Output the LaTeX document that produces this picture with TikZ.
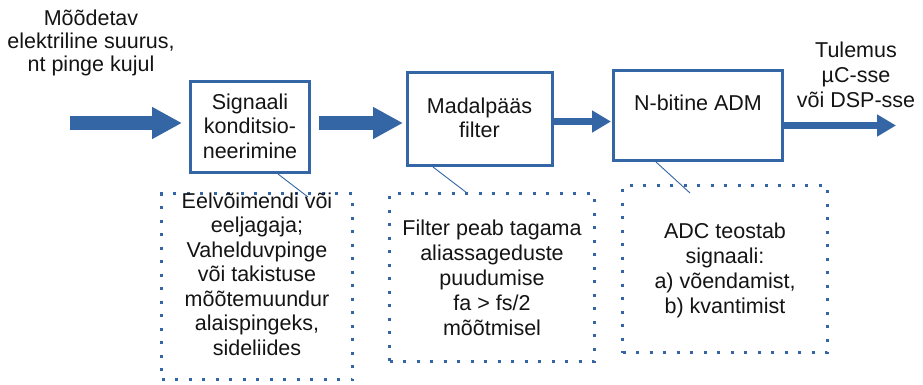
\documentclass[tikz,border=0pt]{standalone}
\usepackage{fontspec}
\setmainfont{Liberation Sans}
\usetikzlibrary{arrows.meta,calc}
\definecolor{lblue}{RGB}{52,101,164}
\definecolor{ink}{RGB}{20,20,20}
\begin{document}
\begin{tikzpicture}[x=1pt,y=-1pt,
  % text nodes are placed by the baseline of their last line
  txt/.style={align=center, text=ink, inner sep=0pt, anchor=base,
    font=\fontsize{21.5}{24.5}\selectfont},
  block/.style={draw=lblue, line width=3pt, fill=white, inner sep=0pt},
  note/.style={draw=lblue, line width=3pt, dash pattern=on 3pt off 10.5pt},
  flow/.style={draw=lblue, line width=14pt, -{Triangle[length=30pt,width=30pt]}},
  thinflow/.style={draw=lblue, line width=7.5pt, -{Triangle[length=19pt,width=21pt]}},
  lead/.style={draw=lblue, line width=0.9pt}]
\useasboundingbox[fill=white] (0,0) rectangle (923,384);

% processing blocks
\node[block, minimum width=119pt, minimum height=91pt] (b1) at (250,127) {};
\node[block, minimum width=145pt, minimum height=93pt] (b2) at (479.5,119) {};
\node[block, minimum width=169pt, minimum height=90pt] (b3) at (698,115.5) {};

% explanatory notes (dotted frames)
\node[note, minimum width=191pt, minimum height=186pt] (nA) at (257,286.5) {};
\node[note, minimum width=205pt, minimum height=168pt] (nB) at (492,277.5) {};
\node[note, minimum width=205pt, minimum height=167pt] (nC) at (725,269) {};

% block labels
\node[txt] (t1) at (250,158) {Signaali\\konditsio-\\neerimine};
\node[txt, font=\fontsize{21.5}{24}\selectfont] (t2) at (479.5,137) {Madalpääs\\filter};
\node[txt] (t3) at (698,110) {N-bitine ADM};

% note texts
\node[txt] (tA) at (257,355) {Eelvõimendi või\\eeljagaja;\\Vahelduvpinge\\või takistuse\\mõõtemuundur\\alaispingeks,\\sideliides};
\node[txt, font=\fontsize{21.5}{25}\selectfont] (tB) at (492,335) {Filter peab tagama\\aliassageduste\\puudumise\\fa > fs/2\\mõõtmisel};
\node[txt, font=\fontsize{21.5}{24.7}\selectfont] (tC) at (725,313) {ADC teostab\\signaali:\\a) võendamist,\\b) kvantimist};

% input / output captions
\node[txt, font=\fontsize{21.5}{23}\selectfont] (tin) at (91,71) {Mõõdetav\\elektriline suurus,\\nt pinge kujul};
\node[txt, font=\fontsize{21.5}{25}\selectfont] (tout) at (856,107) {Tulemus\\µC-sse\\või DSP-sse};

% signal path
\coordinate (src) at (70,123);
\coordinate (lvl3) at (600,121.5);
\coordinate (dst) at (896,125.5);
\draw[flow, shorten >=7pt] (src) -- (src -| b1.west);
\draw[flow, shorten <=8pt, shorten >=2.5pt] (b1.east |- src) -- (b2.west |- src);
\draw[thinflow, shorten >=1pt] (b2.east |- lvl3) -- (b3.west |- lvl3);
\draw[thinflow] (b3.east |- dst) -- (dst);

% leaders from blocks to notes
\coordinate (l1a) at (278,174);
\coordinate (l1b) at (308,197);
\coordinate (l2a) at (433,167);
\coordinate (l2b) at (467,193);
\coordinate (l3a) at (656,162);
\coordinate (l3b) at (690,193);
\draw[lead] (l1a) -- (l1b);
\draw[lead] (l2a) -- (l2b);
\draw[lead] (l3a) -- (l3b);
\end{tikzpicture}
\end{document}
